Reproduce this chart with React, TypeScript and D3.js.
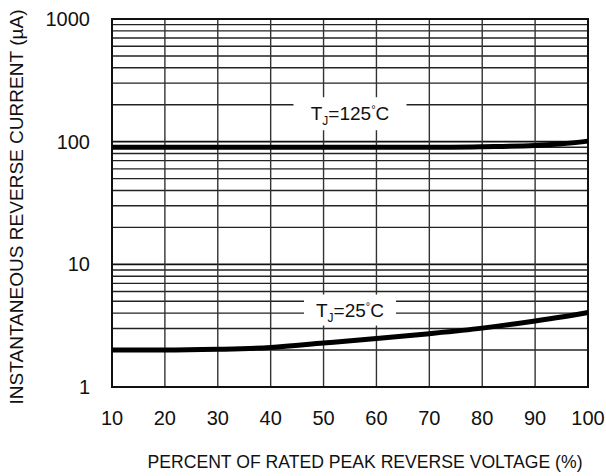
import React from "react";
import * as d3 from "d3";

const percent = [10, 20, 30, 40, 50, 60, 70, 80, 90, 95, 100];
const current25 = [2.0, 2.0, 2.03, 2.1, 2.28, 2.48, 2.72, 3.02, 3.45, 3.72, 4.05];
const current125 = [90, 90, 90, 90, 90, 90, 90, 91, 93, 96, 101];
const xTicks = [10, 20, 30, 40, 50, 60, 70, 80, 90, 100];
const yTicks = [1, 10, 100, 1000];
const labels = [
  { main: "125", x: 55, y: 169, w: 113, h: 33 },
  { main: "25", x: 55, y: 4.24, w: 92, h: 31 },
];

const W = 606, H = 476;
const L = 112, R = 588, T = 19, B = 387;

export default function App() {
  const x = d3.scaleLinear().domain([10, 100]).range([L, R]);
  const y = d3.scaleLog().domain([1, 1000]).range([B, T]);
  const minor: number[] = [];
  for (let d = 1; d < 1000; d *= 10) for (let k = 2; k <= 9; k++) minor.push(d * k);
  const line = d3
    .line<number>()
    .x((_, i) => x(percent[i]))
    .curve(d3.curveMonotoneX);
  const p25 = line.y((v) => y(v))(current25) || "";
  const p125 = line.y((v) => y(v))(current125) || "";
  const font = "'Liberation Sans', Arial, Helvetica, sans-serif";
  return (
    <svg width={W} height={H} style={{ position: "absolute", left: 0, top: 0 }} fontFamily={font}>
      <rect width={W} height={H} fill="#fff" />
      {minor.map((v) => (
        <line key={"m" + v} x1={L} x2={R} y1={y(v)} y2={y(v)} stroke="#222" strokeWidth={1.4} />
      ))}
      {yTicks.map((v) => (
        <line key={"M" + v} x1={L} x2={R} y1={y(v)} y2={y(v)} stroke="#111" strokeWidth={1.6} />
      ))}
      {xTicks.map((v) => (
        <line key={"v" + v} x1={x(v)} x2={x(v)} y1={T} y2={B} stroke="#333" strokeWidth={1.4} />
      ))}
      {labels.map((lb) => (
        <g key={lb.main}>
          <rect x={x(lb.x) - lb.w / 2} y={y(lb.y) - lb.h / 2} width={lb.w} height={lb.h} fill="#fff" />
          <text x={x(lb.x)} y={y(lb.y) + 6.5} textAnchor="middle" fontSize={19} fill="#111">
            T<tspan fontSize={12} dy={5}>J</tspan>
            <tspan dy={-5}>={lb.main}</tspan>
            <tspan fontSize={11} dy={-7}>°</tspan>
            <tspan dy={7}>C</tspan>
          </text>
        </g>
      ))}
      <rect x={L} y={T} width={R - L} height={B - T} fill="none" stroke="#111" strokeWidth={2} />
      <path d={p125} fill="none" stroke="#000" strokeWidth={5} />
      <path d={p25} fill="none" stroke="#000" strokeWidth={5} />
      {yTicks.map((v) => (
        <text key={"yt" + v} x={90} y={y(v) + 7} textAnchor="end" fontSize={20} fill="#111">
          {v}
        </text>
      ))}
      {xTicks.map((v) => (
        <text key={"xt" + v} x={x(v)} y={425} textAnchor="middle" fontSize={20} fill="#111">
          {v}
        </text>
      ))}
      <text
        x={(L + R) / 2 + 15}
        y={468}
        textAnchor="middle"
        fontSize={18}
        textLength={435}
        lengthAdjust="spacingAndGlyphs"
        fill="#111"
      >
        PERCENT OF RATED PEAK REVERSE VOLTAGE (%)
      </text>
      <text
        transform={`translate(22.5,${(T + B) / 2 + 4}) rotate(-90)`}
        textAnchor="middle"
        fontSize={19}
        textLength={395}
        lengthAdjust="spacingAndGlyphs"
        fill="#111"
      >
        INSTANTANEOUS REVERSE CURRENT (µA)
      </text>
    </svg>
  );
}
